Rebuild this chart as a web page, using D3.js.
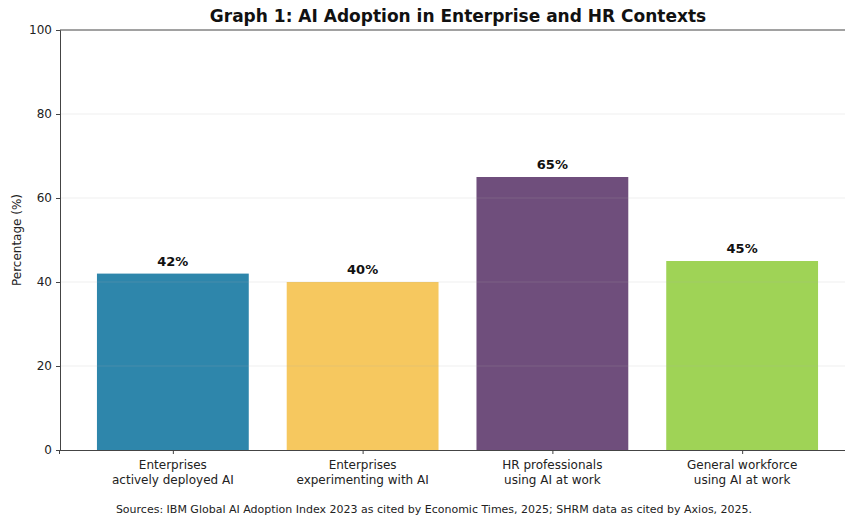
<!DOCTYPE html>
<html>
<head>
<meta charset="utf-8">
<script src="https://cdn.jsdelivr.net/npm/d3@7"></script>
<style>
  body { margin: 0; background: #fff; }
  svg { font-family: "DejaVu Sans", sans-serif; }
</style>
</head>
<body>
<div id="chart"></div>
<script>
// Chart data
const categories = [
    "Enterprises\nactively deployed AI",
    "Enterprises\nexperimenting with AI",
    "HR professionals\nusing AI at work",
    "General workforce\nusing AI at work"
];
const values = [42, 40, 65, 45];
const colors = ["#2E86AB", "#F6C85F", "#6F4E7C", "#9FD356"];
const yTicks = [0, 20, 40, 60, 80, 100];

const width = 845, height = 519;
const margin = {top: 30, left: 60, bottom: 69};
const plotRight = 857; // right spine falls just outside the picture

const svg = d3.select("#chart").append("svg")
    .attr("width", width)
    .attr("height", height);

// matplotlib-style continuous x: bars at 0..3, xlim -0.6..3.6
const x = d3.scaleLinear().domain([-0.6, 3.6]).range([margin.left, plotRight]);
const y = d3.scaleLinear().domain([0, 100]).range([height - margin.bottom, margin.top]);
const barW = x(0.8) - x(0);

// bars
svg.selectAll(".bar")
    .data(values)
    .enter().append("rect")
    .attr("class", "bar")
    .attr("x", (d, i) => x(i) - barW / 2 - 1)
    .attr("y", d => y(d))
    .attr("width", barW)
    .attr("height", d => y(0) - y(d))
    .attr("fill", (d, i) => colors[i]);

// grid lines (drawn over the bars, faint)
svg.append("g")
    .selectAll("line")
    .data(yTicks.filter(t => t > 0 && t < 100))
    .enter().append("line")
    .attr("x1", margin.left).attr("x2", plotRight)
    .attr("y1", d => y(d)).attr("y2", d => y(d))
    .attr("stroke", "#b0b0b0")
    .attr("stroke-opacity", 0.25)
    .attr("stroke-width", 0.8);

// value labels
svg.selectAll(".val")
    .data(values)
    .enter().append("text")
    .attr("class", "val")
    .attr("x", (d, i) => x(i) - 1)
    .attr("y", d => y(d) - 8)
    .attr("text-anchor", "middle")
    .attr("font-size", 13)
    .attr("font-weight", "bold")
    .attr("fill", "#111")
    .text(d => d + "%");

// y axis
const yAxis = svg.append("g")
    .attr("transform", "translate(" + margin.left + ",0)")
    .call(d3.axisLeft(y).tickValues(yTicks).tickSize(4).tickPadding(4));
yAxis.select(".domain").attr("stroke", "#444").attr("stroke-width", 1);
yAxis.selectAll(".tick line").attr("stroke", "#444");
yAxis.selectAll(".tick text").attr("font-size", 12).attr("fill", "#222")
    .attr("font-family", "DejaVu Sans, sans-serif");

// x axis
const xAxis = svg.append("g")
    .attr("transform", "translate(-1," + y(0) + ")")
    .call(d3.axisBottom(x).tickValues([0, 1, 2, 3]).tickSize(4).tickFormat(""));
xAxis.select(".domain").attr("stroke", "#444").attr("stroke-width", 1);
xAxis.selectAll(".tick line").attr("stroke", "#444");

// top spine
svg.append("line")
    .attr("x1", margin.left).attr("x2", plotRight)
    .attr("y1", y(100)).attr("y2", y(100))
    .attr("stroke", "#444");

// category labels
const catText = svg.append("g").selectAll("text")
    .data(categories)
    .enter().append("text")
    .attr("text-anchor", "middle")
    .attr("font-size", 12)
    .attr("fill", "#222")
    .attr("transform", (d, i) => "translate(" + (x(i) - 1) + "," + (y(0) + 19) + ")");
catText.selectAll("tspan")
    .data(d => d.split("\n"))
    .enter().append("tspan")
    .attr("x", 0)
    .attr("dy", (d, i) => i === 0 ? 0 : 15)
    .text(d => d);

// y label
svg.append("text")
    .attr("transform", "translate(21," + ((y(0) + y(100)) / 2) + ") rotate(-90)")
    .attr("text-anchor", "middle")
    .attr("font-size", 12)
    .attr("fill", "#222")
    .text("Percentage (%)");

// title
svg.append("text")
    .attr("x", 458)
    .attr("y", 22)
    .attr("text-anchor", "middle")
    .attr("font-size", 17)
    .attr("font-weight", "bold")
    .attr("fill", "#111")
    .text("Graph 1: AI Adoption in Enterprise and HR Contexts");

// source
svg.append("text")
    .attr("x", 434)
    .attr("y", 513)
    .attr("text-anchor", "middle")
    .attr("font-size", 11)
    .attr("fill", "#222")
    .text("Sources: IBM Global AI Adoption Index 2023 as cited by Economic Times, 2025; SHRM data as cited by Axios, 2025.");
</script>
</body>
</html>
